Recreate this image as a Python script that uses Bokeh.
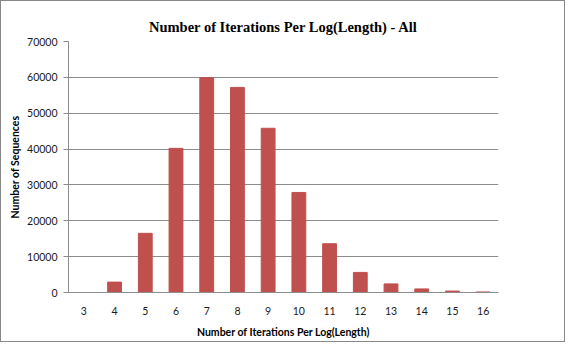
from bokeh.plotting import figure
from bokeh.models import FactorRange, Range1d, FixedTicker, NumeralTickFormatter
from bokeh.embed import file_html
from bokeh.resources import INLINE

title_text = "Number of Iterations Per Log(Length) - All"
categories = ["3", "4", "5", "6", "7", "8", "9", "10", "11", "12", "13", "14", "15", "16"]
counts = [0, 2900, 16500, 40200, 59900, 57200, 45800, 27900, 13600, 5600, 2400, 1000, 400, 150]
y_ticks = [0, 10000, 20000, 30000, 40000, 50000, 60000, 70000]

p = figure(width=565, height=342, x_range=FactorRange(*categories, range_padding=0),
           y_range=Range1d(0, 70000), output_backend="svg", toolbar_location=None,
           title=title_text,
           min_border_left=67, min_border_right=68, min_border_top=40, min_border_bottom=51)

p.vbar(x=categories, top=counts, width=0.45, fill_color="#C0504D", line_color="#C0504D")

p.title.align = "center"
p.title.text_font = "Liberation Serif"
p.title.text_font_size = "14.5px"
p.title.text_font_style = "bold"
p.title.text_color = "#000000"
p.title.offset = -28
p.title.vertical_align = "top"
p.title.standoff = 10

p.yaxis.ticker = FixedTicker(ticks=y_ticks)
p.yaxis.formatter = NumeralTickFormatter(format="0")
p.ygrid.grid_line_color = "#8c8c8c"
p.xgrid.grid_line_color = None
p.outline_line_color = None

for ax in (p.xaxis, p.yaxis):
    ax.axis_line_color = "#8c8c8c"
    ax.major_label_text_font = "Lato"
    ax.major_label_text_font_size = "10.5px"
    ax.major_label_text_color = "#1a1a1a"
    ax.axis_label_text_font = "Lato"
    ax.axis_label_text_font_size = "10.5px"
    ax.axis_label_text_font_style = "bold"
    ax.axis_label_text_color = "#000000"
    ax.minor_tick_line_color = None

p.yaxis.major_tick_line_color = "#8c8c8c"
p.yaxis.major_tick_out = 5
p.yaxis.major_tick_in = 0
p.xaxis.major_tick_line_color = None
p.xaxis.axis_label = "Number of Iterations Per Log(Length)"
p.yaxis.axis_label = "Number of Sequences"
p.xaxis.major_label_standoff = 8
p.yaxis.major_label_standoff = 6
p.xaxis.axis_label_standoff = 8
p.yaxis.axis_label_standoff = 3

p.border_fill_color = "white"
p.styles = {"border": "1px solid #888888"}

open("out.html", "w").write(file_html(p, INLINE))
